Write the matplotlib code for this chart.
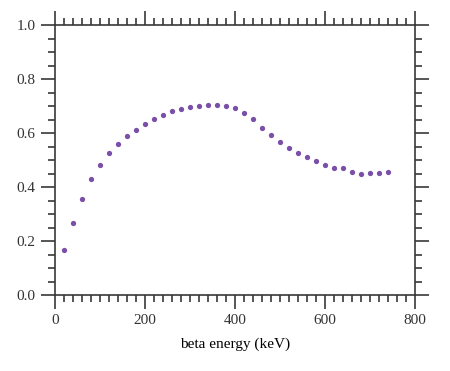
import matplotlib
matplotlib.use('Agg')
import matplotlib.pyplot as plt
from matplotlib.ticker import MultipleLocator

# data
energy = [20, 40, 60, 80, 100, 120, 140, 160, 180, 200, 220, 240, 260, 280, 300,
          320, 340, 360, 380, 400, 420, 440, 460, 480, 500, 520, 540, 560, 580, 600,
          620, 640, 660, 680, 700, 720, 740]
value = [0.167, 0.266, 0.357, 0.430, 0.483, 0.525, 0.560, 0.588, 0.613, 0.634,
         0.653, 0.667, 0.681, 0.690, 0.698, 0.702, 0.705, 0.706, 0.702, 0.693,
         0.676, 0.651, 0.621, 0.592, 0.567, 0.545, 0.528, 0.511, 0.497, 0.483,
         0.470, 0.470, 0.456, 0.449, 0.452, 0.451, 0.457]

plt.rcParams['font.family'] = ['Liberation Serif', 'DejaVu Serif']
plt.rcParams['font.size'] = 11

fig = plt.figure(figsize=(4.5, 3.71), dpi=100)
ax = fig.add_axes([55/450, 1 - 295/371, 360/450, (295 - 25.3)/371])

ax.plot(energy, value, 'o', color='#7a4fa8', markersize=3.8, markeredgewidth=0)

ax.set_xlim(0, 800)
ax.set_ylim(0, 1.0)
ax.xaxis.set_major_locator(MultipleLocator(200))
ax.xaxis.set_minor_locator(MultipleLocator(20))
ax.yaxis.set_major_locator(MultipleLocator(0.2))
ax.yaxis.set_minor_locator(MultipleLocator(0.05))
ax.yaxis.set_major_formatter(plt.FormatStrFormatter('%.1f'))

edge = '#383838'
for s in ax.spines.values():
    s.set_color(edge)
    s.set_linewidth(1.2)
ax.tick_params(which='both', direction='out', top=True, right=True, color=edge,
               width=1.2, labelcolor='#333333')
ax.tick_params(which='major', length=10, pad=4)
ax.tick_params(which='minor', length=5)

ax.set_xlabel('beta energy (keV)', labelpad=7)

fig.savefig('out.png', dpi=100)
plt.close()
